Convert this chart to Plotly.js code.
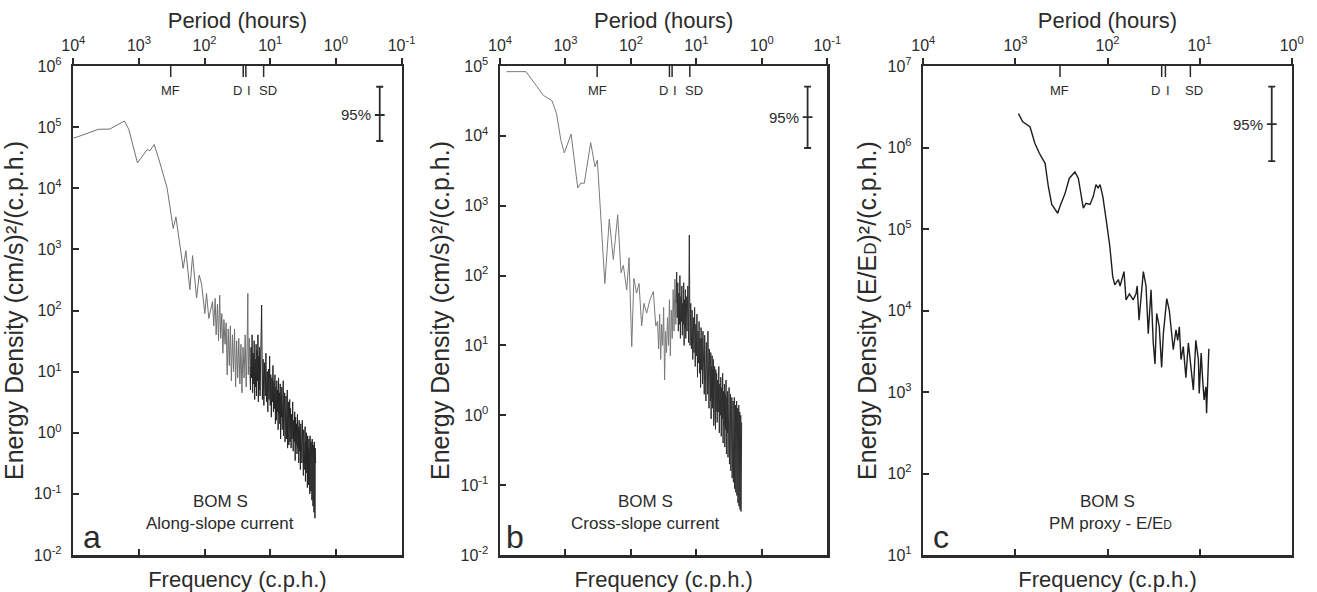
<!DOCTYPE html>
<html><head><meta charset="utf-8">
<script src="https://cdn.plot.ly/plotly-3.0.1.min.js"></script>
<style>html,body{margin:0;padding:0;background:#fff}#chart{width:1317px;height:592px}</style>
</head><body><div id="chart"></div>
<script>
// ---------------- DATA ----------------
// Panel a : along-slope current spectrum (frequency c.p.h., energy (cm/s)^2/(c.p.h.))
const freqALow = [1.0e-4,1.19e-4,2.4e-4,3.6e-4,6.0e-4,7.0e-4,9.5e-4,1.34e-3,1.47e-3,1.71e-3,
  2.09e-3,2.69e-3,3.33e-3,3.66e-3,4.72e-3,5.19e-3,5.97e-3,6.56e-3,7.55e-3,8.28e-3,
  9.0e-3,1.01e-2,1.07e-2,1.16e-2,1.32e-2,
  0.0138,0.0145,0.0150,0.0157,0.0163,0.0170,0.0176,0.0183,0.0190,0.0197,
  0.0205,0.0213,0.0221,0.0229,0.0238,0.0247,0.0256,0.0266,0.0276,0.0286,
  0.0297,0.0308,0.0320,0.0332,0.0345,0.0358,0.0371,0.0385,0.0400,0.0415,
  0.0430,0.0446,0.0456,0.0463,0.0480];
const energyALow = [6.6e4,7.0e4,9.2e4,9.3e4,1.26e5,9.2e4,2.6e4,4.3e4,4.1e4,5.2e4,
  2.6e4,1.0e4,2.2e3,3.4e3,490,950,220,790,160,380,
  270,89,190,74,140,
  56,158,40,126,32,178,35,89,20,71,
  28,63,8.9,50,12.6,56,7.1,40,10,50,
  5.6,32,7.9,35,6.3,28,4.5,25,7.9,40,
  5.6,32,190,8.9,35];
// shared high-frequency grid for panels a and b
const freqHigh = [0.049,0.050,0.051,0.052,0.053,0.054,0.055,0.056,0.057,0.058,0.059,0.060,0.061,0.062,0.063,0.064,0.065,0.066,0.067,0.068,0.069,0.070,
  0.072,0.074,0.076,0.078,0.080,0.082,0.084,0.086,0.088,0.090,0.092,0.094,0.096,0.098,0.100,0.102,0.104,0.106,0.108,0.110,0.112,0.114,0.116,0.118,0.120,
  0.122,0.124,0.126,0.128,0.130,0.132,0.134,0.136,0.138,0.140,0.142,0.144,0.146,0.148,0.150,0.152,0.154,0.156,0.158,0.160,
  0.162,0.164,0.166,0.168,0.170,0.172,0.174,0.176,0.178,0.180,0.182,0.184,0.186,0.188,0.190,0.192,0.194,0.196,0.198,0.200,
  0.204,0.208,0.212,0.216,0.220,0.224,0.228,0.232,0.236,0.240,0.244,0.248,0.252,0.256,0.260,0.264,0.268,0.272,0.276,0.280,
  0.284,0.288,0.292,0.296,0.300,0.304,0.308,0.312,0.316,0.320,0.324,0.328,0.332,0.336,0.340,0.344,0.348,0.352,0.356,0.360,
  0.364,0.368,0.372,0.376,0.380,0.384,0.388,0.392,0.396,0.400,0.404,0.408,0.412,0.416,0.420,0.424,0.428,0.432,0.436,0.440,
  0.444,0.448,0.452,0.456,0.460,0.464,0.468,0.472,0.476,0.480,0.484,0.488,0.492];
const energyAHigh = [12,5.0,25,7.9,40,4.5,20,6.3,32,3.5,16,5.6,28,4.0,22,7.1,40,3.2,18,5.0,25,4.0,
  20,123,3.5,16,2.8,14,4.0,20,3.2,10,2.2,11,3.5,18,2.8,8.9,1.8,7.9,3.2,12.6,2.2,7.1,2.5,8.9,1.4,
  5.6,1.6,7.1,2.2,5.0,1.12,7.9,2.0,4.5,1.4,6.3,0.79,4.0,1.8,5.6,1.12,3.5,1.6,7.1,0.89,
  3.2,1.26,4.5,0.71,2.8,1.4,4.0,0.79,2.5,1.0,5.0,0.56,2.2,1.12,3.2,0.63,2.0,0.89,3.5,0.71,
  2.5,0.56,2.0,0.79,3.2,0.5,1.6,0.71,2.2,0.35,1.8,0.63,1.4,0.45,2.0,0.56,1.26,0.32,1.6,0.5,
  1.12,0.25,1.4,0.45,1.0,0.32,1.6,0.4,0.89,0.2,1.12,0.35,0.79,0.25,1.26,0.16,0.71,0.32,1.0,0.22,
  0.63,0.126,0.89,0.28,0.56,0.14,0.79,0.2,0.5,0.1,0.89,0.22,0.56,0.11,0.71,0.18,0.45,0.079,0.79,0.16,
  0.5,0.063,0.63,0.14,0.4,0.05,0.71,0.11,0.45,0.04,0.56,0.089,0.32];

// Panel b : cross-slope current spectrum
const freqBLow = [1.26e-4,2.5e-4,4.6e-4,6.2e-4,7.3e-4,8.5e-4,9.6e-4,1.22e-3,1.54e-3,1.71e-3,
  1.94e-3,2.43e-3,2.83e-3,3.07e-3,4.0e-3,4.67e-3,5.38e-3,6.28e-3,7.06e-3,7.66e-3,
  8.63e-3,9.36e-3,1.03e-2,1.11e-2,1.22e-2,1.33e-2,1.46e-2,1.58e-2,1.74e-2,1.95e-2,2.2e-2,2.4e-2,
  0.0255,0.0265,0.0275,0.0285,0.0295,0.0305,0.0316,0.0327,0.0338,0.0350,
  0.0362,0.0375,0.0388,0.0400,0.0414,0.0428,0.0442,0.0456,0.0470,0.0485];
const energyBLow = [8.3e4,8.3e4,3.8e4,3.2e4,2.1e4,8.7e3,5.7e3,1.06e4,1.8e3,2.1e3,
  2.1e3,8.0e3,3.6e3,4.5e3,77,640,170,740,110,140,
  62,180,9.6,91,56,77,19,40,29,45,59,19,
  22,8.9,28,6.3,20,10,35,3.2,16,7.9,
  25,10,45,7.1,32,12.6,63,16,89,20];
const energyBHigh = [40,112,25,79,16,56,20,100,12.6,50,22,71,14,40,20,79,10,45,18,63,12.6,50,
  16,71,11,380,10,40,8.9,32,6.3,25,7.9,35,5.0,20,7.1,28,3.5,16,5.6,22,4.0,12.6,2.5,18,4.5,
  12.6,2.8,16,4.0,10,2.0,14,3.5,8.9,1.6,11,2.8,7.1,2.0,16,2.5,6.3,1.26,8.9,2.2,
  5.6,1.6,7.9,0.89,5.0,1.8,7.1,1.26,4.5,1.6,6.3,0.71,4.0,1.4,5.0,1.0,3.5,0.63,4.5,1.12,
  4.0,0.79,3.2,1.12,5.0,0.56,2.8,1.0,3.5,0.5,2.5,0.89,4.0,0.4,2.2,0.71,2.8,0.35,2.0,0.63,
  3.2,0.28,1.8,0.56,2.2,0.25,1.6,0.5,2.5,0.2,1.4,0.45,2.0,0.16,1.26,0.35,1.8,0.126,1.12,0.32,
  1.6,0.11,1.26,0.28,1.8,0.089,1.0,0.25,1.4,0.079,1.12,0.22,1.6,0.071,0.89,0.2,1.26,0.056,1.0,0.18,
  1.4,0.05,0.79,0.16,1.12,0.045,0.71,0.14,1.0,0.042,0.63,0.126,0.79];

// Panel c : PM proxy E/E_D spectrum
const freqC = [1.08e-3,1.2e-3,1.44e-3,1.63e-3,1.82e-3,2.1e-3,2.28e-3,2.48e-3,2.88e-3,3.05e-3,
  3.45e-3,3.85e-3,4.43e-3,4.82e-3,5.46e-3,5.85e-3,6.46e-3,7.0e-3,7.5e-3,7.9e-3,
  8.3e-3,8.9e-3,9.8e-3,1.06e-2,1.14e-2,1.2e-2,1.31e-2,1.37e-2,1.51e-2,1.59e-2,
  1.73e-2,1.9e-2,2.04e-2,2.1e-2,2.2e-2,2.45e-2,2.62e-2,2.77e-2,2.97e-2,3.14e-2,
  3.28e-2,3.42e-2,3.65e-2,3.87e-2,4.04e-2,4.4e-2,4.69e-2,4.98e-2,5.18e-2,5.54e-2,
  5.78e-2,6.03e-2,6.28e-2,6.65e-2,7.1e-2,7.55e-2,8.0e-2,8.55e-2,9.1e-2,9.7e-2,
  9.9e-2,0.104,0.108,0.112,0.117,0.119,0.126];
const energyC = [2.6e6,2.07e6,1.8e6,1.12e6,8.5e5,6.4e5,3.3e5,2.0e5,1.56e5,1.9e5,
  2.7e5,4.2e5,5.0e5,4.2e5,1.8e5,2.07e5,2.0e5,2.5e5,3.5e5,3.2e5,
  3.5e5,2.5e5,1.17e5,6.1e4,2.6e4,2.06e4,2.4e4,2.0e4,3.0e4,1.35e4,
  1.6e4,1.35e4,1.6e4,2.0e4,7.6e3,3.0e4,2.0e4,5.2e3,1.8e4,4.0e3,
  2.2e3,9.2e3,6.3e3,2.0e3,5.2e3,1.4e4,1.0e4,5.2e3,3.3e3,5.8e3,
  4.3e3,6.3e3,2.5e3,3.6e3,1.5e3,4.0e3,2.2e3,1.06e3,4.3e3,2.5e3,
  960,3.0e3,1.4e3,800,1.16e3,550,3.4e3];

// 95% confidence bars: frequency, centre, upper, lower
const ciFreq = [4.66, 5.0, 0.607];
const ciCentre = [1.58e5, 1.85e4, 1.94e6];
const ciUpper = [4.58e5, 5.06e4, 5.57e6];
const ciLower = [5.93e4, 6.7e3, 6.8e5];

// tidal / inertial markers (period in hours)
const tideNames = ['MF', 'D', 'I', 'SD'];
const tidePeriods = [328, 25.8, 23.5, 12.6];

// axis ticks
const periodTicksAB = [1e4, 1e3, 1e2, 1e1, 1e0, 1e-1];
const periodTickTextAB = ['10<sup>4</sup>','10<sup>3</sup>','10<sup>2</sup>','10<sup>1</sup>','10<sup>0</sup>','10<sup>-1</sup>'];
const periodTicksC = [1e4, 1e3, 1e2, 1e1, 1e0];
const periodTickTextC = ['10<sup>4</sup>','10<sup>3</sup>','10<sup>2</sup>','10<sup>1</sup>','10<sup>0</sup>'];
const freqTicks = [1e-4, 1e-3, 1e-2, 1e-1, 1e0, 1e1];
const energyTicksA = [1e-2,1e-1,1e0,1e1,1e2,1e3,1e4,1e5,1e6];
const energyTickTextA = ['10<sup>-2</sup>','10<sup>-1</sup>','10<sup>0</sup>','10<sup>1</sup>','10<sup>2</sup>','10<sup>3</sup>','10<sup>4</sup>','10<sup>5</sup>','10<sup>6</sup>'];
const energyTicksB = [1e-2,1e-1,1e0,1e1,1e2,1e3,1e4,1e5];
const energyTickTextB = ['10<sup>-2</sup>','10<sup>-1</sup>','10<sup>0</sup>','10<sup>1</sup>','10<sup>2</sup>','10<sup>3</sup>','10<sup>4</sup>','10<sup>5</sup>'];
const energyTicksC = [1e1,1e2,1e3,1e4,1e5,1e6,1e7];
const energyTickTextC = ['10<sup>1</sup>','10<sup>2</sup>','10<sup>3</sup>','10<sup>4</sup>','10<sup>5</sup>','10<sup>6</sup>','10<sup>7</sup>'];

const panelLetters = ['a', 'b', 'c'];
const siteName = 'BOM S';
const panelSubtitles = ['Along-slope current', 'Cross-slope current', 'PM proxy - E/E<span style="font-size:12px">D</span>'];
const yTitles = ['Energy Density (cm/s)²/(c.p.h.)', 'Energy Density (cm/s)²/(c.p.h.)',
  'Energy Density (E/E<span style="font-size:17px">D</span>)²/(c.p.h.)'];

// ---------------- STYLE ----------------
const FONT = 'Liberation Sans, Arial, Helvetica, sans-serif';
const INK = '#2b2b2b';
const W = 1317, H = 592;
const plotTop = 66, plotBottom = 555;
const panelsPx = [[73.3, 401.5], [500, 827.3], [923.3, 1291.7]];
const yDom = [1 - plotBottom / H, 1 - plotTop / H];
const tideShift = {MF: 0, D: -6, I: 3, SD: 4};
const textPos = [{x: 0.447, x2: 0.447, lx: 0.057}, {x: 0.445, x2: 0.445, lx: 0.046}, {x: 0.5, x2: 0.507, lx: 0.048}];

// each spectrum: low-frequency part (thin grey) and dense high-frequency part (dark)
const series = [
  {lowX: freqALow, lowY: energyALow, highX: freqHigh, highY: energyAHigh, lowColor: '#707070', highColor: '#262626', width: 1},
  {lowX: freqBLow, lowY: energyBLow, highX: freqHigh, highY: energyBHigh, lowColor: '#7a7a7a', highColor: '#2e2e2e', width: 1},
  {lowX: freqC, lowY: energyC, highX: [], highY: [], lowColor: '#1e1e1e', highColor: '#1e1e1e', width: 1.4}
];
const yRanges = [[-2, 6], [-2, 5], [1, 7]];
const yTicks = [[energyTicksA, energyTickTextA], [energyTicksB, energyTickTextB], [energyTicksC, energyTickTextC]];
const xRanges = [[-4, 1], [-4, 1], [-4, 0]];
const topTicks = [[periodTicksAB, periodTickTextAB], [periodTicksAB, periodTickTextAB], [periodTicksC, periodTickTextC]];

const traces = [];
const layout = {
  width: W, height: H, margin: {l: 0, r: 0, t: 0, b: 0},
  paper_bgcolor: '#fff', plot_bgcolor: '#fff', showlegend: false,
  font: {family: FONT, color: INK, size: 16},
  shapes: [], annotations: []
};

for (let p = 0; p < 3; p++) {
  const n = p + 1;
  const xb = n === 1 ? 'x' : 'x' + n;
  const yb = n === 1 ? 'y' : 'y' + n;
  const xt = 'x' + (n + 3);
  const dom = [panelsPx[p][0] / W, panelsPx[p][1] / W];
  const s = series[p];

  // low-frequency segment (joined to the first high-frequency point)
  traces.push({x: s.lowX.concat(s.highX.slice(0, 1)), y: s.lowY.concat(s.highY.slice(0, 1)),
    xaxis: xb, yaxis: yb, type: 'scatter', mode: 'lines',
    line: {color: s.lowColor, width: s.width}, hoverinfo: 'x+y'});
  if (s.highX.length) {
    traces.push({x: s.highX, y: s.highY, xaxis: xb, yaxis: yb, type: 'scatter', mode: 'lines',
      line: {color: s.highColor, width: s.width}, hoverinfo: 'x+y'});
  }
  traces.push({x: [], y: [], xaxis: xt, yaxis: yb, type: 'scatter', mode: 'lines', hoverinfo: 'skip'});
  traces.push({x: [ciFreq[p]], y: [ciCentre[p]], xaxis: xb, yaxis: yb, type: 'scatter', mode: 'markers',
    marker: {symbol: 'line-ew-open', size: 7, color: INK, line: {width: 1.8, color: INK}},
    error_y: {type: 'data', symmetric: false, array: [ciUpper[p] - ciCentre[p]], arrayminus: [ciCentre[p] - ciLower[p]],
      color: INK, thickness: 1.8, width: 3.5}, hoverinfo: 'skip'});

  const axBase = {showline: true, linecolor: INK, linewidth: 2.5, showgrid: false, zeroline: false,
    tickcolor: INK, tickwidth: 2, ticklen: 6, automargin: false, fixedrange: true};
  layout['xaxis' + (n === 1 ? '' : n)] = Object.assign({}, axBase, {
    domain: dom, anchor: yb, type: 'log', range: xRanges[p], mirror: true,
    ticks: 'inside', tickmode: 'array', tickvals: freqTicks, showticklabels: false,
    title: {text: 'Frequency (c.p.h.)', font: {size: 22, family: FONT, color: INK}, standoff: 20}
  });
  layout['xaxis' + (n + 3)] = Object.assign({}, axBase, {
    overlaying: xb, side: 'top', anchor: yb, type: 'log', range: [-xRanges[p][0], -xRanges[p][1]],
    ticks: 'outside', tickmode: 'array', tickvals: topTicks[p][0], ticktext: topTicks[p][1],
    tickfont: {size: 16, family: FONT, color: INK},
    title: {text: 'Period (hours)', font: {size: 22, family: FONT, color: INK}, standoff: 0}
  });
  layout['yaxis' + (n === 1 ? '' : n)] = Object.assign({}, axBase, {
    domain: yDom, anchor: xb, type: 'log', range: yRanges[p], mirror: true,
    ticks: 'inside', tickmode: 'array', tickvals: yTicks[p][0], ticktext: yTicks[p][1],
    tickfont: {size: 16, family: FONT, color: INK}, ticklabelstandoff: 6,
    title: {text: yTitles[p], font: {size: 25, family: FONT, color: INK}, standoff: 4}
  });

  // tidal markers (shapes take the period value directly on the log period axis)
  tideNames.forEach((name, i) => {
    layout.shapes.push({type: 'line', xref: xt, yref: yb + ' domain', x0: tidePeriods[i], x1: tidePeriods[i],
      y0: 1, y1: 1 - 11 / 489, line: {color: INK, width: 1.5}});
    layout.annotations.push({xref: xt, yref: yb + ' domain', x: Math.log10(tidePeriods[i]), y: 1, yanchor: 'top', xanchor: 'center',
      yshift: -15, xshift: tideShift[name], text: name, showarrow: false, font: {size: 13, family: FONT, color: INK}});
  });
  // 95% label
  layout.annotations.push({xref: xb, yref: yb, x: Math.log10(ciFreq[p]), y: Math.log10(ciCentre[p]),
    xanchor: 'right', yanchor: 'middle', xshift: -7, text: '95%', showarrow: false,
    font: {size: 15, family: FONT, color: INK}});
  // site labels
  layout.annotations.push({xref: xb + ' domain', yref: yb + ' domain', x: textPos[p].x, y: 0.110,
    xanchor: 'center', yanchor: 'middle', text: siteName, showarrow: false, font: {size: 17, family: FONT, color: INK}});
  layout.annotations.push({xref: xb + ' domain', yref: yb + ' domain', x: textPos[p].x2, y: 0.065,
    xanchor: 'center', yanchor: 'middle', text: panelSubtitles[p], showarrow: false, font: {size: 17, family: FONT, color: INK}});
  layout.annotations.push({xref: xb + ' domain', yref: yb + ' domain', x: textPos[p].lx, y: 0.037,
    xanchor: 'center', yanchor: 'middle', text: panelLetters[p], showarrow: false, font: {size: 32, family: FONT, color: INK}});
}

Plotly.newPlot('chart', traces, layout, {displayModeBar: false, staticPlot: true});
</script>
</body></html>
